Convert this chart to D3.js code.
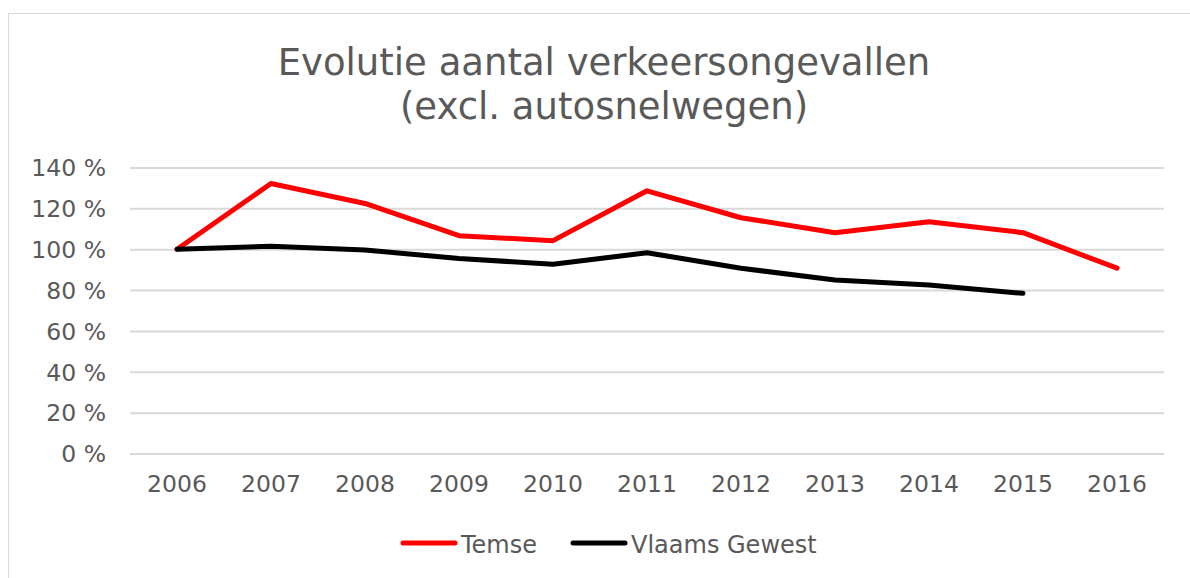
<!DOCTYPE html>
<html>
<head>
<meta charset="utf-8">
<script src="https://cdn.jsdelivr.net/npm/d3@7"></script>
<style>
  html, body { margin: 0; padding: 0; background: #fff; }
  svg { display: block; }
  text { font-family: "DejaVu Sans", Verdana, sans-serif; fill: #595959; }
</style>
</head>
<body>
<svg id="chart" width="1190" height="578"></svg>
<script>
const years = ["2006","2007","2008","2009","2010","2011","2012","2013","2014","2015","2016"];
const temse = [100, 132.2, 122.4, 106.6, 104.2, 128.6, 115.4, 108.1, 113.4, 108.1, 90.7];
const vlaams = [100, 101.4, 99.6, 95.5, 92.6, 98.3, 90.7, 84.9, 82.5, 78.4, null];
const yTicks = [0, 20, 40, 60, 80, 100, 120, 140];
const seriesNames = ["Temse", "Vlaams Gewest"];
const seriesColors = ["#ff0000", "#000000"];
const titleLines = ["Evolutie aantal verkeersongevallen", "(excl. autosnelwegen)"];

const svg = d3.select("#chart");
const W = 1190, H = 578;

// chart area border
svg.append("rect")
  .attr("x", 8.5).attr("y", 13.5)
  .attr("width", W + 10).attr("height", H + 10)
  .attr("fill", "none").attr("stroke", "#d9d9d9").attr("stroke-width", 1);

const plot = { left: 130, right: 1164, top: 167.5, bottom: 453.5 };

const x = d3.scaleBand().domain(years).range([plot.left, plot.right]);
const y = d3.scaleLinear().domain([0, 140]).range([plot.bottom, plot.top]);

// title
svg.append("text")
  .attr("text-anchor", "middle")
  .attr("font-size", 37)
  .selectAll("tspan").data(titleLines).join("tspan")
  .attr("x", 604).attr("y", (d, i) => 75 + i * 44)
  .text(d => d);

// gridlines
const yAxis = d3.axisLeft(y).tickValues(yTicks).tickSize(-(plot.right - plot.left)).tickFormat(d => d + " %").tickPadding(24);
const gy = svg.append("g").attr("transform", `translate(${plot.left},0)`).call(yAxis);
gy.select(".domain").remove();
gy.selectAll(".tick line").attr("stroke", "#d9d9d9").attr("stroke-width", 2);
gy.selectAll(".tick text").attr("font-size", 23.5).attr("font-family", "DejaVu Sans, Verdana, sans-serif").attr("fill", "#595959").attr("dy", "0.35em");

// x axis
const xAxis = d3.axisBottom(x).tickSize(0).tickPadding(22);
const gx = svg.append("g").attr("transform", `translate(0,${plot.bottom})`).call(xAxis);
gx.select(".domain").remove();
gx.selectAll(".tick text").attr("font-size", 23.5).attr("font-family", "DejaVu Sans, Verdana, sans-serif").attr("fill", "#595959");

const cx = d => x(d) + x.bandwidth() / 2;
const line = d3.line()
  .defined(d => d.v != null)
  .x(d => cx(d.year))
  .y(d => y(d.v));

[temse, vlaams].forEach((vals, i) => {
  const data = years.map((yr, j) => ({ year: yr, v: vals[j] }));
  svg.append("path")
    .datum(data)
    .attr("d", line)
    .attr("fill", "none")
    .attr("stroke", seriesColors[i])
    .attr("stroke-width", 5)
    .attr("stroke-linejoin", "round")
    .attr("stroke-linecap", "round");
});

// legend
const legendX = [401, 571];
const legendY = 543;
seriesNames.forEach((name, i) => {
  const g = svg.append("g");
  g.append("line")
    .attr("x1", legendX[i] + 2).attr("x2", legendX[i] + 54)
    .attr("y1", legendY).attr("y2", legendY)
    .attr("stroke", seriesColors[i]).attr("stroke-width", 5).attr("stroke-linecap", "round");
  g.append("text")
    .attr("x", legendX[i] + 60).attr("y", legendY + 10)
    .attr("font-size", 24)
    .text(name);
});
</script>
</body>
</html>
